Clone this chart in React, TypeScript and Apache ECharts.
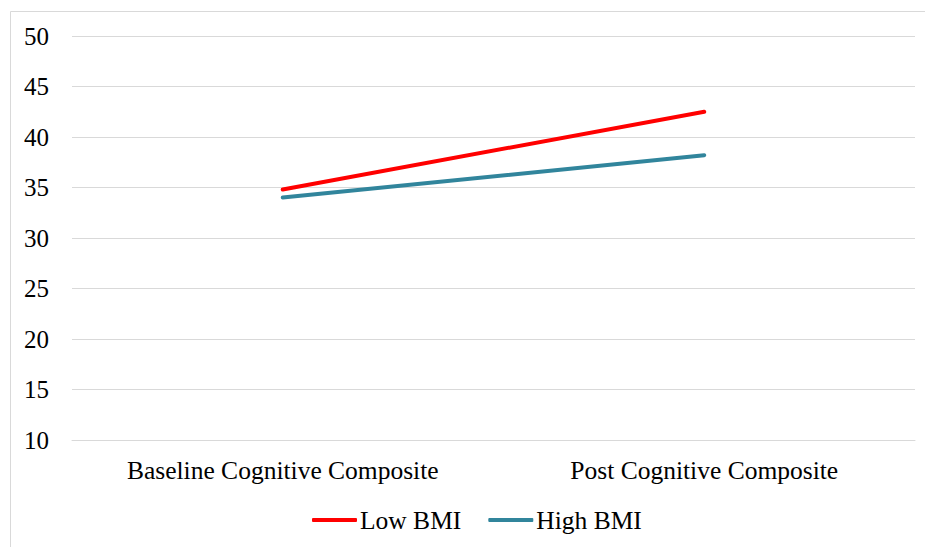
import React, { useEffect, useRef } from "react";
import * as echarts from "echarts";

const categories = ["Baseline Cognitive Composite", "Post Cognitive Composite"];
const lowBMI = [34.8, 42.5];
const highBMI = [34.0, 38.2];
const seriesNames = ["Low BMI", "High BMI"];

export default function App() {
  const ref = useRef<HTMLDivElement>(null);
  useEffect(() => {
    const chart = echarts.init(ref.current!, null, { renderer: "svg" });
    const font = "Liberation Serif";
    chart.setOption({
      animation: false,
      backgroundColor: "#ffffff",
      textStyle: { fontFamily: font },
      graphic: [
        {
          type: "rect",
          shape: { x: 10.5, y: 11.5, width: 930, height: 560 },
          style: { fill: "none", stroke: "#d9d9d9", lineWidth: 1 },
          silent: true,
        },
      ],
      grid: { left: 72, right: 10, top: 36, bottom: 107, containLabel: false },
      xAxis: {
        type: "category",
        data: categories,
        boundaryGap: true,
        axisLine: { show: true, lineStyle: { color: "#d9d9d9", width: 1 } },
        axisTick: { show: false },
        axisLabel: { color: "#000", fontSize: 25.5, fontFamily: font, margin: 17 },
      },
      yAxis: {
        type: "value",
        min: 10,
        max: 50,
        interval: 5,
        axisLine: { show: false },
        axisTick: { show: false },
        splitLine: { lineStyle: { color: "#d9d9d9", width: 1 } },
        axisLabel: { color: "#000", fontSize: 25, fontFamily: font, margin: 23 },
      },
      legend: {
        left: 312,
        top: 507,
        padding: 0,
        itemWidth: 45,
        itemHeight: 4,
        itemGap: 27,
        icon: "roundRect",
        textStyle: { color: "#000", fontSize: 25.5, fontFamily: font, padding: [0, 0, 0, -2] },
        data: seriesNames,
      },
      series: [
        {
          name: seriesNames[0],
          type: "line",
          data: lowBMI,
          symbol: "none",
          lineStyle: { color: "#ff0000", width: 4, cap: "round" },
          itemStyle: { color: "#ff0000" },
        },
        {
          name: seriesNames[1],
          type: "line",
          data: highBMI,
          symbol: "none",
          lineStyle: { color: "#31859c", width: 4, cap: "round" },
          itemStyle: { color: "#31859c" },
        },
      ],
    });
    return () => chart.dispose();
  }, []);
  return (
    <div
      ref={ref}
      style={{ position: "fixed", left: 0, top: 0, width: 925, height: 547 }}
    />
  );
}
